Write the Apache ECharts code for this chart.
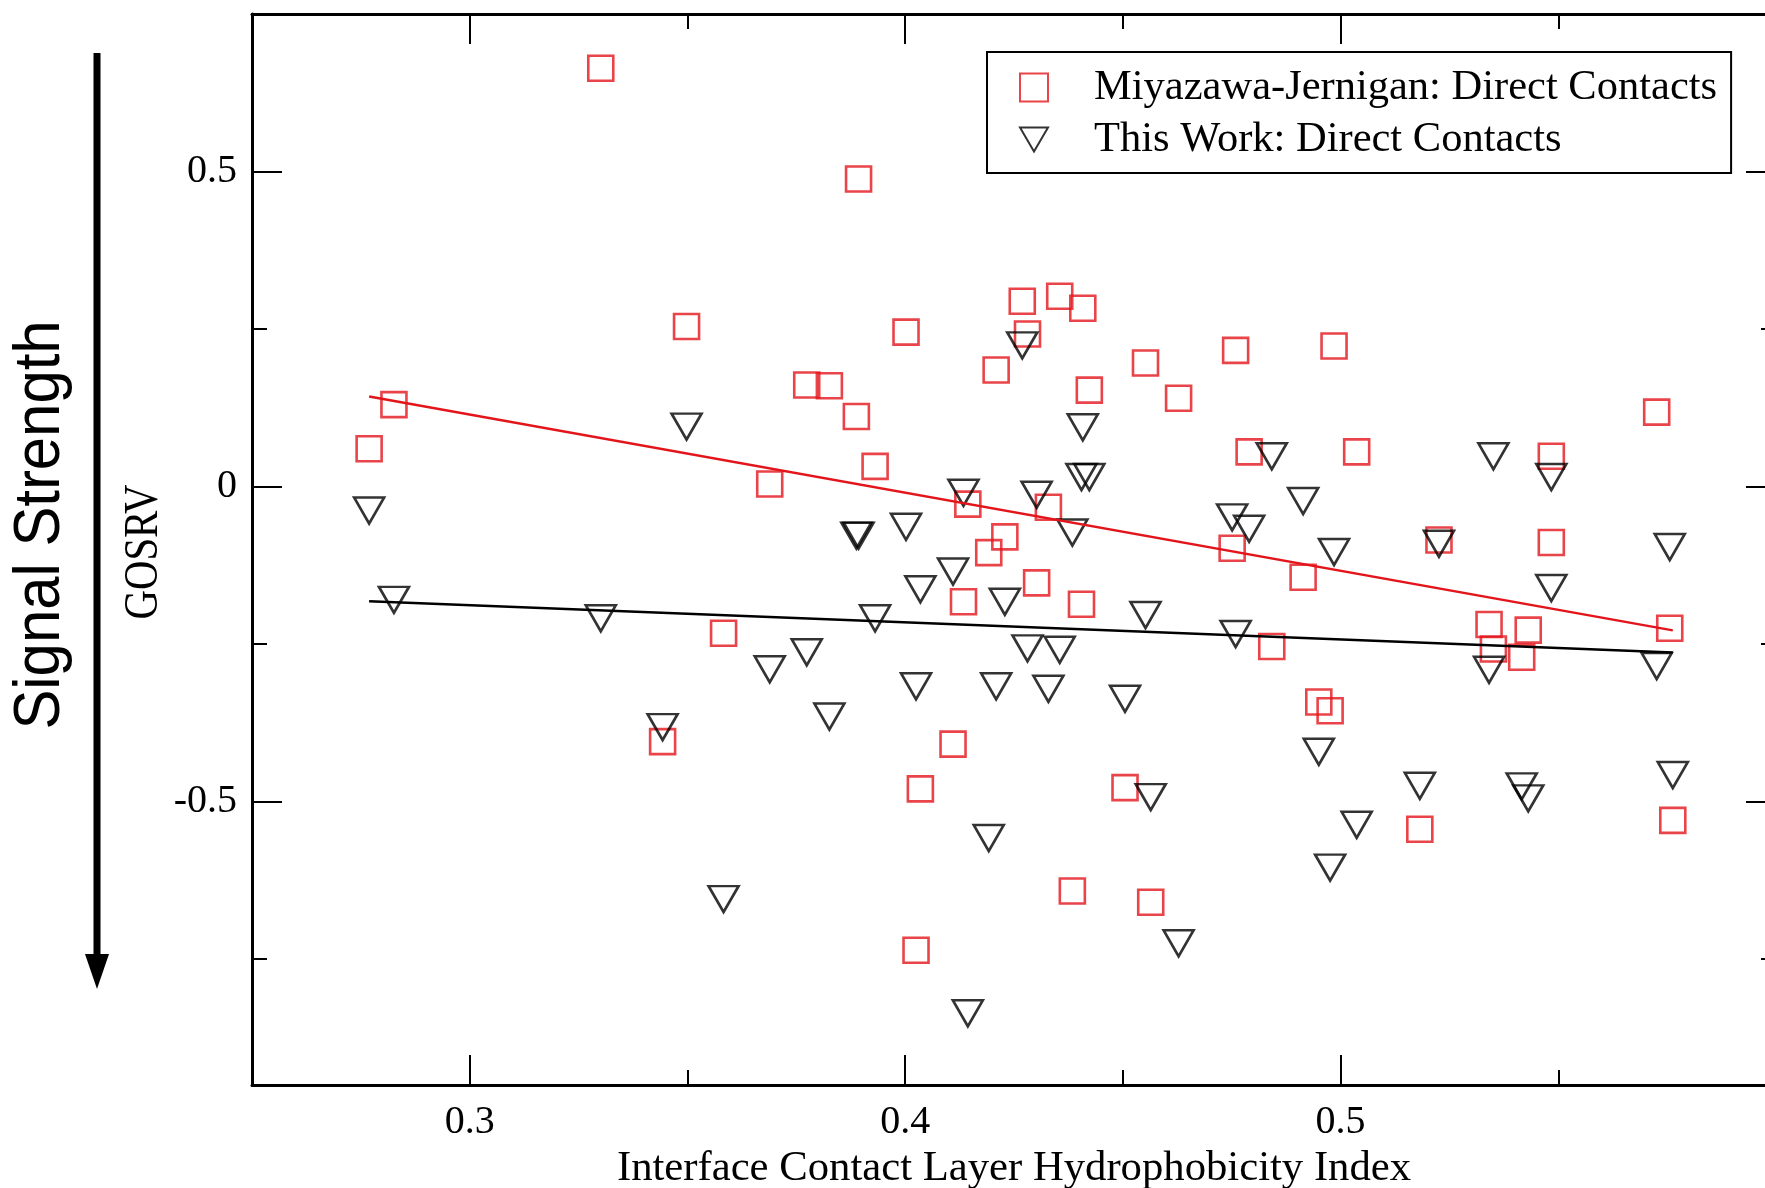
<!DOCTYPE html>
<html>
<head>
<meta charset="utf-8">
<script src="https://cdn.jsdelivr.net/npm/echarts@6/dist/echarts.min.js"></script>
<style>
  html, body { margin: 0; padding: 0; background: #ffffff; }
  #chart { width: 1765px; height: 1188px; }
</style>
</head>
<body>
<div id="chart"></div>
<script>
// Interface contact layer hydrophobicity index of each complex (shared by both scores)
const hydrophobicity = [0.2769, 0.2826, 0.3301, 0.3443, 0.3498, 0.3583, 0.3689, 0.3774, 0.3826, 0.3888,
  0.3893, 0.3931, 0.4002, 0.4025, 0.4035, 0.4110, 0.4134, 0.4144, 0.4192, 0.4209,
  0.4229, 0.4269, 0.4281, 0.4302, 0.4329, 0.4355, 0.4384, 0.4405, 0.4408, 0.4423,
  0.4505, 0.4552, 0.4564, 0.4628, 0.4751, 0.4759, 0.4790, 0.4842, 0.4914, 0.4950,
  0.4976, 0.4985, 0.5037, 0.5182, 0.5226, 0.5341, 0.5351, 0.5416, 0.5431, 0.5484,
  0.5484, 0.5726, 0.5756, 0.5763];

// GOSRV with Miyazawa-Jernigan direct-contact potentials
const mjGosrv = [0.060, 0.130, 0.664, -0.405, 0.254, -0.233, 0.004, 0.161, 0.160, 0.111,
  0.488, 0.032, 0.245, -0.736, -0.480, -0.409, -0.183, -0.028, -0.105, 0.185,
  -0.080, 0.294, 0.242, -0.153, -0.033, 0.302, -0.642, -0.187, 0.283, 0.153,
  -0.478, 0.196, -0.660, 0.140, -0.098, 0.216, 0.055, -0.254, -0.144, -0.342,
  -0.356, 0.223, 0.055, -0.544, -0.085, -0.219, -0.258, -0.271, -0.228, 0.048,
  -0.089, 0.118, -0.225, -0.530];

// GOSRV with this work's direct-contact potentials
const thisWorkGosrv = [-0.038, -0.180, -0.209, -0.382, 0.095, -0.655, -0.290, -0.263, -0.365, -0.078,
  -0.078, -0.209, -0.064, -0.317, -0.163, -0.135, -0.010, -0.836, -0.558, -0.317,
  -0.183, 0.224, -0.257, -0.013, -0.321, -0.259, -0.073, 0.015, 0.094, 0.015,
  -0.337, -0.204, -0.493, -0.725, -0.049, -0.234, -0.067, 0.048, -0.023, -0.421,
  -0.605, -0.104, -0.537, -0.475, -0.091, -0.291, 0.048, -0.476, -0.495, 0.015,
  -0.161, -0.285, -0.096, -0.458];

const seriesNames = ['Miyazawa-Jernigan: Direct Contacts', 'This Work: Direct Contacts'];
const xMajorTicks = [0.3, 0.4, 0.5];
const xMinorTicks = [0.35, 0.45, 0.55];
const yMajorTicks = [-0.5, 0, 0.5];
const yMinorTicks = [-0.75, -0.25, 0.25];
const xRange = [0.25, 0.6];
const yRange = [-0.95, 0.75];

const RED = '#e3151b';
const SERIF = '"Liberation Serif", "Times New Roman", serif';

function pairs(xs, ys) {
  return xs.map((x, i) => [x, ys[i]]);
}

// Least-squares line drawn across the sampled x span
function fitLine(xs, ys) {
  const n = xs.length;
  const mx = xs.reduce((a, b) => a + b, 0) / n;
  const my = ys.reduce((a, b) => a + b, 0) / n;
  let sxy = 0, sxx = 0;
  for (let i = 0; i < n; i++) {
    sxy += (xs[i] - mx) * (ys[i] - my);
    sxx += (xs[i] - mx) * (xs[i] - mx);
  }
  const slope = sxy / sxx;
  const x0 = Math.min(...xs), x1 = Math.max(...xs);
  return [[x0, my + slope * (x0 - mx)], [x1, my + slope * (x1 - mx)]];
}

function frameAxis(dim, position, ticks, len, withLine, withLabels) {
  const range = dim === 'x' ? xRange : yRange;
  return {
    type: 'value',
    position: position,
    min: range[0],
    max: range[1],
    axisLine: { show: withLine, onZero: false, lineStyle: { color: '#000', width: 3 } },
    axisTick: { show: true, inside: true, length: len, customValues: ticks,
      lineStyle: { color: '#000', width: 2 } },
    axisLabel: { show: withLabels, customValues: ticks, color: '#000',
      fontFamily: SERIF, fontSize: 40, margin: dim === 'x' ? 17 : 15 },
    splitLine: { show: false },
    axisPointer: { show: false }
  };
}

const xAxes = [
  frameAxis('x', 'bottom', xMajorTicks, 30, true, true),
  frameAxis('x', 'bottom', xMinorTicks, 15, false, false),
  frameAxis('x', 'top', xMajorTicks, 30, true, false),
  frameAxis('x', 'top', xMinorTicks, 15, false, false)
];
Object.assign(xAxes[0], {
  name: 'Interface Contact Layer Hydrophobicity Index',
  nameLocation: 'middle',
  nameGap: 57,
  nameTextStyle: { color: '#000', fontFamily: SERIF, fontSize: 42.7 }
});

const yAxes = [
  frameAxis('y', 'left', yMajorTicks, 30, true, true),
  frameAxis('y', 'left', yMinorTicks, 15, false, false),
  frameAxis('y', 'right', yMajorTicks, 30, true, false),
  frameAxis('y', 'right', yMinorTicks, 15, false, false)
];

const chart = echarts.init(document.getElementById('chart'), null, { renderer: 'canvas' });

chart.setOption({
  backgroundColor: '#ffffff',
  animation: false,
  grid: { left: 252, top: 14, width: 1524, height: 1071, containLabel: false, outerBoundsMode: 'none' },
  xAxis: xAxes,
  yAxis: yAxes,
  legend: {
    data: seriesNames,
    orient: 'vertical',
    left: 987,
    top: 52,
    padding: [14, 14, 12, 32],
    itemGap: 9,
    itemWidth: 28,
    itemHeight: 28,
    backgroundColor: '#ffffff',
    borderColor: '#000',
    borderWidth: 2,
    borderRadius: 0,
    selectedMode: false,
    textStyle: { color: '#000', fontFamily: SERIF, fontSize: 42.5, padding: [0, 0, 0, 41] }
  },
  series: [
    {
      name: seriesNames[0],
      type: 'scatter',
      data: pairs(hydrophobicity, mjGosrv),
      symbol: 'rect',
      symbolSize: 25,
      itemStyle: { color: 'rgba(255,255,255,0)', borderColor: RED, borderWidth: 2.6 },
      emphasis: { disabled: true },
      z: 3
    },
    {
      name: seriesNames[1],
      type: 'scatter',
      data: pairs(hydrophobicity, thisWorkGosrv),
      symbol: 'path://M0,0 L20,0 L10,17.32 Z',
      symbolSize: [30, 26],
      itemStyle: { color: 'rgba(255,255,255,0)', borderColor: '#000', borderWidth: 2.6 },
      emphasis: { disabled: true },
      z: 4
    },
    {
      name: 'mj-fit',
      type: 'line',
      data: fitLine(hydrophobicity, mjGosrv),
      symbol: 'none',
      lineStyle: { color: RED, width: 2.5 },
      silent: true,
      z: 5
    },
    {
      name: 'this-work-fit',
      type: 'line',
      data: fitLine(hydrophobicity, thisWorkGosrv),
      symbol: 'none',
      lineStyle: { color: '#000', width: 2.5 },
      silent: true,
      z: 5
    }
  ],
  graphic: [
    // "Signal Strength" arrow beside the axis
    { type: 'line', shape: { x1: 97, y1: 53, x2: 97, y2: 958 },
      style: { stroke: '#000', lineWidth: 7 } },
    { type: 'polygon', shape: { points: [[85, 954], [109, 954], [97, 989]] },
      style: { fill: '#000' } },
    { type: 'text', x: 41, y: 525, rotation: Math.PI / 2, scaleX: 0.935,
      style: { text: 'Signal Strength', fill: '#000', align: 'center', verticalAlign: 'middle',
        font: '64px "Liberation Sans", Arial, sans-serif' } },
    { type: 'text', x: 144, y: 552, rotation: Math.PI / 2, scaleX: 0.85,
      style: { text: 'GOSRV', fill: '#000', align: 'center', verticalAlign: 'middle',
        font: '48px "Liberation Serif", "Times New Roman", serif' } }
  ]
});
</script>
</body>
</html>
